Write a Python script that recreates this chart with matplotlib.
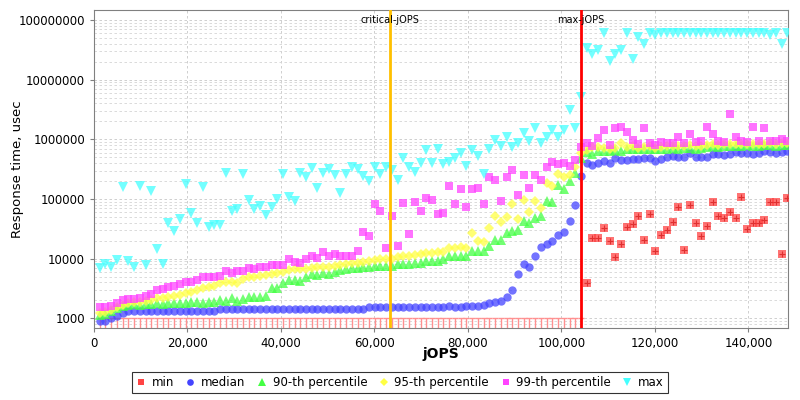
import matplotlib
matplotlib.use('Agg')
import matplotlib.pyplot as plt
from matplotlib.ticker import LogLocator, FuncFormatter, MultipleLocator, NullFormatter
import numpy as np

# load levels: 121 RT-curve steps of 1225.5 jOPS
step = 1225.5
critical_jops = 63300
max_jops = 104170

median = [910, 910, 1020, 1100, 1220, 1330, 1330, 1330, 1330, 1330,
          1330, 1330, 1330, 1330, 1330, 1330, 1330, 1330, 1330, 1330,
          1330, 1420, 1420, 1420, 1420, 1420, 1420, 1420, 1420, 1420,
          1420, 1420, 1420, 1420, 1420, 1420, 1420, 1420, 1420, 1420,
          1420, 1420, 1420, 1420, 1420, 1420, 1420, 1530, 1530, 1530,
          1530, 1530, 1530, 1530, 1530, 1530, 1530, 1530, 1530, 1530,
          1530, 1620, 1530, 1530, 1600, 1620, 1620, 1700, 1780, 1850,
          1950, 2250, 2940, 5460, 8100, 7200, 11300, 15500, 17400, 19500,
          25000, 28200, 42600, 80000, 245000, 395000, 370000, 404000, 426000, 395000,
          479000, 443000, 443000, 466000, 460000, 484000, 490000, 431000, 466000, 509000,
          523000, 498000, 498000, 581000, 509000, 498000, 498000, 558000, 558000, 543000,
          565000, 617000, 594000, 581000, 565000, 581000, 627000, 617000, 581000, 611000,
          641000]

p90 = [1150, 1200, 1350, 1500, 1600, 1700, 1750, 1700, 1750, 1750,
       1800, 1750, 1800, 1800, 1800, 1800, 1850, 1850, 1800, 1850,
       1900, 2000, 1950, 2160, 1970, 2130, 2250, 2300, 2300, 2360,
       3180, 3180, 3950, 4380, 4380, 4270, 4860, 5460, 5250, 5680,
       5530, 5960, 6430, 6700, 6880, 7050, 7330, 7200, 7600, 7600,
       7600, 7600, 8030, 8110, 8110, 8340, 8540, 9220, 9220, 9220,
       9700, 11000, 11000, 11000, 11000, 13600, 13600, 13600, 16500, 20500,
       20500, 27200, 29300, 30200, 42700, 39000, 47300, 52400, 93600, 89900,
       171000, 147000, 202000, 268000, 479000, 617000, 565000, 627000, 640000, 650000,
       660000, 650000, 680000, 700000, 680000, 690000, 700000, 680000, 690000, 700000,
       720000, 700000, 720000, 730000, 700000, 720000, 740000, 760000, 750000, 760000,
       780000, 760000, 770000, 790000, 780000, 770000, 790000, 800000, 780000, 800000,
       810000]

p95 = [1250, 1300, 1400, 1550, 1650, 1800, 1850, 1900, 1950, 2050,
       2160, 2160, 2300, 2360, 2460, 2690, 2790, 2980, 3180, 3390,
       3520, 3860, 4010, 4110, 3860, 4500, 4860, 4980, 5110, 5310,
       5520, 5810, 6040, 6440, 6620, 6620, 6780, 6960, 7140, 7320,
       7320, 7520, 7820, 8110, 8330, 8540, 8900, 9100, 9600, 9740,
       9740, 10000, 10700, 11000, 11300, 11500, 12000, 12600, 12700, 12900,
       13000, 15200, 15200, 15800, 14900, 26500, 19900, 19200, 32200, 52400,
       42000, 50400, 81000, 46000, 96000, 61000, 93600, 71300, 183000, 165000,
       258000, 230000, 251000, 339000, 581000, 660000, 750000, 750000, 720000, 700000,
       720000, 870000, 740000, 760000, 720000, 740000, 760000, 730000, 750000, 760000,
       780000, 760000, 780000, 790000, 760000, 780000, 800000, 820000, 800000, 820000,
       840000, 820000, 830000, 850000, 840000, 830000, 850000, 860000, 840000, 860000,
       870000]

p99 = [1530, 1530, 1630, 1780, 2030, 2080, 2080, 2160, 2390, 2520,
       2980, 3100, 3390, 3520, 3760, 4110, 4010, 4380, 4860, 4860,
       4980, 5180, 6200, 5810, 6200, 6200, 7050, 6780, 7330, 7140,
       7730, 7730, 7820, 9860, 8770, 8540, 9860, 10900, 10400, 12900,
       11000, 11900, 10900, 11300, 11200, 13400, 28000, 24000, 84000, 63000,
       15200, 52400, 16300, 86000, 25500, 89900, 63000, 105000, 96000, 56000,
       57500, 165000, 83000, 145000, 74000, 147000, 155000, 81000, 230000, 207000,
       92000, 236000, 303000, 117000, 251000, 155000, 251000, 207000, 347000, 424000,
       386000, 404000, 357000, 448000, 735000, 855000, 776000, 1040000, 1420000, 800000,
       1520000, 1620000, 1320000, 975000, 830000, 1520000, 870000, 800000, 910000, 870000,
       870000, 1100000, 870000, 1220000, 900000, 950000, 1620000, 1210000, 950000, 920000,
       2700000, 1100000, 950000, 920000, 1620000, 950000, 1520000, 950000, 950000, 1000000,
       950000]

max_rt = [6890, 8040, 7310, 9480, 160000, 9120, 7310, 166000, 7820, 136000,
          14500, 8040, 39900, 29000, 46000, 176000, 57400, 39900, 160000, 34200,
          36500, 36500, 269000, 63400, 67700, 258000, 96000, 67700, 77000, 53700,
          74000, 99600, 258000, 109000, 92000, 278000, 236000, 326000, 153000, 269000,
          313000, 251000, 127000, 258000, 339000, 313000, 246000, 197000, 347000, 261000,
          347000, 303000, 207000, 479000, 339000, 285000, 408000, 660000, 404000, 700000,
          386000, 424000, 490000, 581000, 357000, 660000, 523000, 261000, 680000, 975000,
          760000, 1100000, 740000, 880000, 1290000, 940000, 1520000, 870000, 1100000, 1420000,
          1100000, 1460000, 3080000, 1520000, 5030000, 34500000, 26500000, 31500000, 60000000, 20400000,
          26500000, 32000000, 60000000, 22500000, 52000000, 39000000, 60000000, 55000000, 60000000, 60000000,
          60000000, 60000000, 60000000, 60000000, 60000000, 60000000, 60000000, 60000000, 60000000, 60000000,
          60000000, 60000000, 60000000, 60000000, 60000000, 60000000, 60000000, 55000000, 60000000, 40000000,
          60000000]

# min: steps up to max-jOPS sit on the 1000 floor, then real values
min_floor = [1000] * 85
min_rt = [3850, 22400, 22400, 32200, 19900, 10500, 17800, 33400, 37600, 51300,
          20500, 56600, 13300, 25200, 30200, 41500, 72300, 13800, 78000, 39500,
          23700, 35100, 87600, 51900, 47500, 61100, 48000, 110000, 31700, 39000,
          39000, 44300, 88600, 88600, 12100, 106000]

levels = np.arange(1, len(median) + 1) * step
ybottom, ytop = 690, 1.47e8

fig = plt.figure(figsize=(8, 4), dpi=100)
ax = fig.add_axes([0.1175, 0.18, 0.8675, 0.795])

x_floor = levels[:len(min_floor)]
x_min = levels[len(min_floor):]
ax.vlines(x_floor, ybottom, min_floor, color='#ff9090', lw=1, zorder=2)
ax.plot(x_floor, min_floor, ls='none', marker='_', ms=5, mew=1, color='#ff9090', zorder=2)

ax.axvline(critical_jops, color='#ffc000', lw=2, zorder=4)
ax.axvline(max_jops, color='#ff0000', lw=2, zorder=4)

ms = dict(ls='none', alpha=0.75, mew=0, zorder=3)
ax.plot(x_min, min_rt, marker='s', ms=6, color='#ff4444', label='min', **ms)
ax.plot(x_min, min_rt, ls='none', marker='+', ms=4, mew=0.8, color='#e03030', zorder=3)
ax.plot(levels, median, marker='o', ms=6, color='#4444ff', label='median', **ms)
ax.plot(levels, p90, marker='^', ms=6.5, color='#44ff44', label='90-th percentile', **ms)
ax.plot(levels, p95, marker='D', ms=5, color='#ffff44', label='95-th percentile', **ms)
ax.plot(levels, p99, marker='s', ms=5.5, color='#ff44ff', label='99-th percentile', **ms)
ax.plot(levels, max_rt, marker='v', ms=6.5, color='#44ffff', label='max', **ms)

ax.set_yscale('log')
ax.set_ylim(ybottom, ytop)
ax.set_xlim(0, 148450)
ax.yaxis.set_major_locator(LogLocator(base=10, numticks=12))
ax.yaxis.set_minor_locator(LogLocator(base=10, subs=np.arange(2, 10), numticks=12))
ax.yaxis.set_major_formatter(FuncFormatter(lambda v, _: f'{int(round(v))}'))
ax.yaxis.set_minor_formatter(NullFormatter())
ax.xaxis.set_major_locator(MultipleLocator(20000))
ax.xaxis.set_major_formatter(FuncFormatter(lambda v, _: f'{int(v):,}'))

ax.grid(which='major', axis='both', ls=(0, (3, 3)), color='#c8c8c8', lw=0.6, zorder=0)
ax.grid(which='minor', axis='y', ls=(0, (3, 3)), color='#d4d4d4', lw=0.6, zorder=0)
ax.set_axisbelow(True)
for s in ax.spines.values():
    s.set_color('#808080')
ax.tick_params(axis='both', which='major', labelsize=8.5, color='#808080', length=3)
ax.tick_params(axis='y', which='minor', length=0)

ax.set_xlabel('jOPS', fontsize=10, fontweight='bold')
ax.set_ylabel('Response time, usec', fontsize=9.5)
ax.yaxis.set_label_coords(-0.101, 0.5)
ax.xaxis.set_label_coords(0.5, -0.06)

ax.text(critical_jops, 1.0e8, 'critical-jOPS', ha='center', va='center', fontsize=7, zorder=5)
ax.text(max_jops, 1.0e8, 'max-jOPS', ha='center', va='center', fontsize=7, zorder=5)

leg = fig.legend(loc='lower center', bbox_to_anchor=(0.5, 0.002), ncol=6, fontsize=8.5,
                 frameon=True, fancybox=False, edgecolor='black', handlelength=0.8,
                 handletextpad=0.5, columnspacing=1.0, borderpad=0.35, markerscale=0.8)
leg.get_frame().set_linewidth(0.8)
for h in leg.legend_handles:
    h.set_alpha(1)

fig.savefig('out.png', dpi=100)
